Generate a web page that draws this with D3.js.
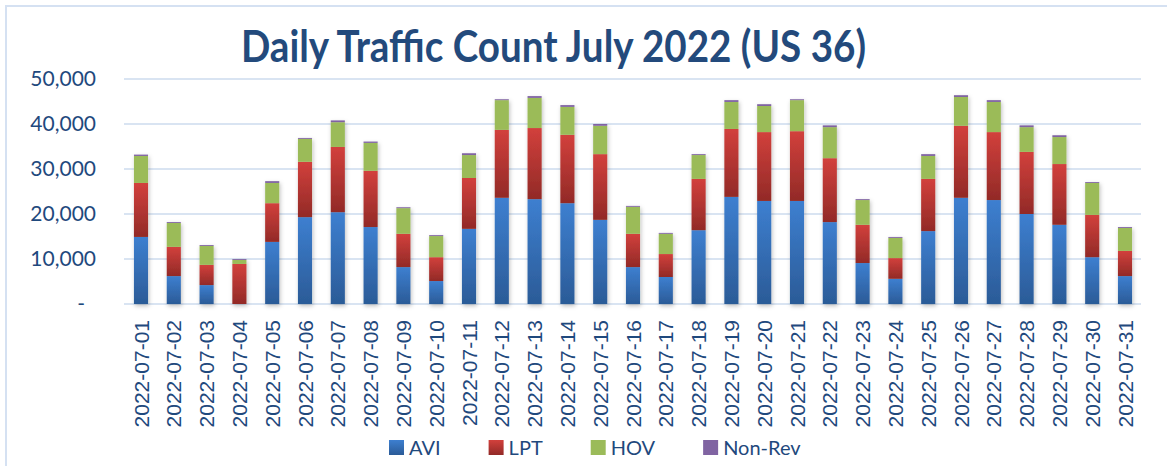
<!DOCTYPE html>
<html>
<head>
<meta charset="utf-8">
<script src="https://cdn.jsdelivr.net/npm/d3@7"></script>
<style>
 body { margin: 0; background: #fff; }
 svg { display: block; }
</style>
</head>
<body>
<script>

// daily counts
var dates = ['2022-07-01','2022-07-02','2022-07-03','2022-07-04','2022-07-05','2022-07-06','2022-07-07','2022-07-08',
             '2022-07-09','2022-07-10','2022-07-11','2022-07-12','2022-07-13','2022-07-14','2022-07-15','2022-07-16',
             '2022-07-17','2022-07-18','2022-07-19','2022-07-20','2022-07-21','2022-07-22','2022-07-23','2022-07-24',
             '2022-07-25','2022-07-26','2022-07-27','2022-07-28','2022-07-29','2022-07-30','2022-07-31']

var avi    = [14900, 6200, 4200,    0, 13800, 19300, 20400, 17100,  8200,  5100, 16700, 23600, 23300, 22400, 18700,  8200,
               6000, 16400, 23800, 22900, 22900, 18200,  9100,  5600, 16200, 23600, 23100, 20000, 17600, 10400,  6200]
var lpt    = [12000, 6500, 4500, 8900,  8600, 12300, 14500, 12500,  7400,  5300, 11300, 15100, 15800, 15200, 14600,  7400,
               5100, 11400, 15100, 15300, 15500, 14200,  8500,  4600, 11600, 16000, 15100, 13800, 13500,  9400,  5600]
var hov    = [ 6000, 5300, 4200,  900,  4500,  5100,  5500,  6200,  5700,  4700,  5100,  6600,  6700,  6200,  6300,  6000,
               4500,  5300,  6000,  5800,  6900,  6900,  5500,  4500,  5100,  6400,  6700,  5500,  6000,  7100,  5100]
var nonrev = [  300,  200,  200,  200,   400,   200,   400,   300,   200,   200,   400,   200,   400,   400,   400,   200,
                200,   200,   400,   400,   200,   400,   200,   200,   400,   400,   400,   400,   400,   200,   200]

var seriesNames = ['AVI', 'LPT', 'HOV', 'Non-Rev']
var yTicks = [0, 10000, 20000, 30000, 40000, 50000]
var title = 'Daily Traffic Count July 2022 (US 36)'

var W = 1167, H = 466
var textCol = '#1f497d'
var gridCol = '#d9e4f2'

var svg = d3.select('body').append('svg').attr('width', W).attr('height', H)
var defs = svg.append('defs')

// gradients like the old office bars
function grad(id, top, bottom) {
  var g = defs.append('linearGradient').attr('id', id).attr('x1', 0).attr('y1', 0).attr('x2', 0).attr('y2', 1)
  g.append('stop').attr('offset', '0%').attr('stop-color', top)
  g.append('stop').attr('offset', '100%').attr('stop-color', bottom)
}
grad('g-avi', '#3d7fd0', '#2b5b97')
grad('g-lpt', '#d2403c', '#922a27')
grad('g-hov', '#9bbb59', '#9bbb59')
grad('g-non', '#8064a2', '#8064a2')
var fills = ['url(#g-avi)', 'url(#g-lpt)', 'url(#g-hov)', 'url(#g-non)']

var sh = defs.append('filter').attr('id', 'shadow').attr('x', '-50%').attr('y', '-10%').attr('width', '200%').attr('height', '130%')
sh.append('feDropShadow').attr('dx', 1).attr('dy', 2).attr('stdDeviation', 2).attr('flood-color', '#000').attr('flood-opacity', 0.25)

// outer frame (only top + left show)
svg.append('rect').attr('x', 6).attr('y', 6).attr('width', W + 20).attr('height', H + 20)
   .attr('fill', 'none').attr('stroke', '#d5e1f2').attr('stroke-width', 2)

var x = d3.scaleBand().domain(dates).range([124.6, 1141.4]).paddingInner(0.57).paddingOuter(0.285)
var y = d3.scaleLinear().domain([0, 50000]).range([304, 79])

// gridlines
svg.append('g').selectAll('line').data(yTicks).enter().append('line')
   .attr('x1', 124).attr('x2', 1141)
   .attr('y1', function(d) { return y(d) }).attr('y2', function(d) { return y(d) })
   .attr('stroke', gridCol).attr('stroke-width', 2)

// stacked bars
var table = dates.map(function(d, i) {
  return { date: d, 'AVI': avi[i], 'LPT': lpt[i], 'HOV': hov[i], 'Non-Rev': nonrev[i] }
})
var stacked = d3.stack().keys(seriesNames)(table)

var cols = svg.append('g')
cols.selectAll('g').data(dates).enter().append('g')
  .attr('filter', 'url(#shadow)')
  .each(function(dt, i) {
    var g = d3.select(this)
    stacked.forEach(function(s, k) {
      var seg = s[i]
      if (seg[1] - seg[0] <= 0) return
      g.append('rect')
       .attr('x', x(dt)).attr('width', x.bandwidth())
       .attr('y', y(seg[1])).attr('height', y(seg[0]) - y(seg[1]))
       .attr('fill', fills[k])
    })
  })

// y axis labels
var yAxis = svg.append('g').attr('transform', 'translate(124,0)')
  .call(d3.axisLeft(y).tickValues(yTicks).tickSize(0).tickPadding(28)
        .tickFormat(function(d) { return d === 0 ? '-' : d3.format(',')(d) }))
yAxis.select('.domain').remove()
yAxis.selectAll('text').attr('fill', textCol).style('font-family', 'Lato, "Open Sans", sans-serif').style('font-size', '21px')
  .attr('dx', function(d) { return d === 0 ? -11 : 0 })

// x axis labels
var xAxis = svg.append('g').attr('transform', 'translate(0,304)')
  .call(d3.axisBottom(x).tickSize(0))
xAxis.select('.domain').remove()
xAxis.selectAll('text')
  .attr('fill', textCol).style('font-family', '"Liberation Sans", Arial, sans-serif').style('font-size', '21px')
  .attr('transform', 'rotate(-90)')
  .attr('text-anchor', 'end')
  .attr('x', -16).attr('y', 0).attr('dy', '0.36em')

// title
svg.append('text').attr('x', 241).attr('y', 61.5)
  .attr('fill', '#234a7c')
  .style('font-family', 'Lato, sans-serif').style('font-weight', 700).style('font-size', '44px')
  .attr('textLength', 625).attr('lengthAdjust', 'spacingAndGlyphs')
  .text(title)

// legend
var lg = svg.append('g').attr('transform', 'translate(389,440)')
var lx = 0
seriesNames.forEach(function(n, k) {
  var it = lg.append('g').attr('transform', 'translate(' + lx + ',0)')
  it.append('rect').attr('width', 15).attr('height', 15).attr('fill', fills[k])
  var t = it.append('text').attr('x', 20).attr('y', 14.5).attr('fill', textCol)
    .style('font-family', 'Lato, "Open Sans", sans-serif').style('font-size', '20px').text(n)
  lx += 20 + t.node().getComputedTextLength() + 48
})

</script>
</body>
</html>
